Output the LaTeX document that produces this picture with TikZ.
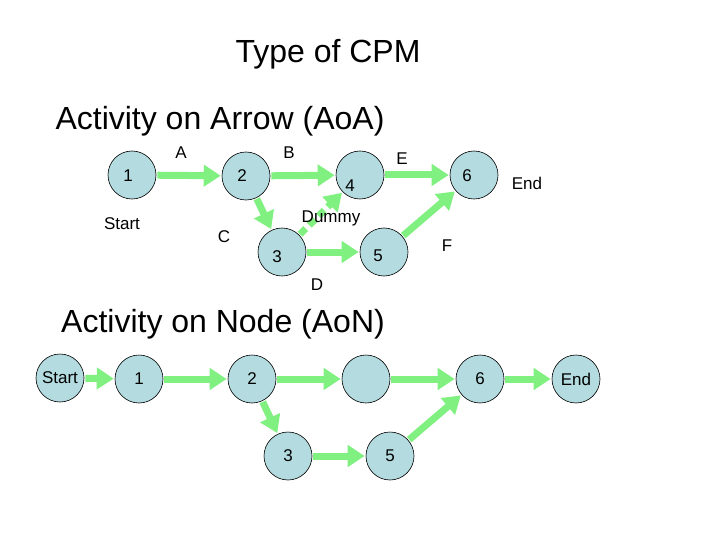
\documentclass[tikz,border=0pt]{standalone}
\usepackage{fontspec}
\setmainfont{Liberation Sans}
\usetikzlibrary{arrows.meta}
\definecolor{nodefill}{HTML}{B4DCE0}
\definecolor{arrgreen}{HTML}{80F080}
\tikzset{
  ev/.style={circle, draw=black, line width=0.6pt, fill=nodefill, minimum size=48pt, inner sep=0pt, font=\fontsize{17}{19}\selectfont},
  act/.style={draw=arrgreen, line width=7pt, -{Triangle[length=17pt,width=21pt]}, shorten >=1pt, shorten <=1pt},
  dum/.style={act, dash pattern=on 8pt off 5pt},
  lbl/.style={font=\fontsize{17}{19}\selectfont, inner sep=0pt}
}
\begin{document}
\begin{tikzpicture}[x=1pt,y=-1pt]
\useasboundingbox (0,0) rectangle (720,540);
\node[font=\fontsize{32}{36}\selectfont] (title) at (328,54) {Type of CPM};
\node[font=\fontsize{32}{36}\selectfont] (aoa) at (220,121) {Activity on Arrow (AoA)};
\node[font=\fontsize{32}{36}\selectfont] (aon) at (223,324) {Activity on Node (AoN)};
% AoA
\node[ev] (n1) at (132,175) {};
\node[lbl] at (128,176) {1};
\node[ev] (n2) at (246,176) {};
\node[lbl] at (242,176) {2};
\node[ev] (n4) at (360,175) {};
\node[lbl] at (350,186) {4};
\node[ev] (n6) at (474,175) {};
\node[lbl] at (467,176) {6};
\node[ev] (n3) at (282,252) {};
\node[lbl] at (277,257) {3};
\node[ev] (n5) at (384,252) {};
\node[lbl] at (378,256) {5};
\draw[act] (n1) -- (n2);
\draw[act] (n2) -- (n4);
\draw[act] (n4) -- (n6);
\draw[act] (n2) -- (n3);
\draw[act] (n3) -- (n5);
\draw[act] (n5) -- (n6);
\draw[dum] (n3) -- (n4);
\node[lbl] (la) at (181,153) {A};
\node[lbl] (lb) at (289,153) {B};
\node[lbl] (le) at (402,159) {E};
\node[lbl] (lend) at (527,183) {End};
\node[lbl] (lstart) at (122,224) {Start};
\node[lbl] (lc) at (224,237) {C};
\node[lbl] (ldummy) at (331,218) {Dummy};
\node[lbl] (lf) at (447,246) {F};
\node[lbl] (ld) at (317,285) {D};
% AoN
\node[ev] (s) at (60,378) {Start};
\node[ev] (m1) at (139,379) {1};
\node[ev] (m2) at (252,379) {2};
\node[ev] (m4) at (366,379) {};
\node[ev] (m6) at (480,379) {6};
\node[ev] (e) at (576,379) {End};
\node[ev] (m3) at (288,456) {3};
\node[ev] (m5) at (390,456) {5};
\draw[act] (s) -- (m1);
\draw[act] (m1) -- (m2);
\draw[act] (m2) -- (m4);
\draw[act] (m4) -- (m6);
\draw[act] (m6) -- (e);
\draw[act] (m2) -- (m3);
\draw[act] (m3) -- (m5);
\draw[act] (m5) -- (m6);
\end{tikzpicture}
\end{document}
